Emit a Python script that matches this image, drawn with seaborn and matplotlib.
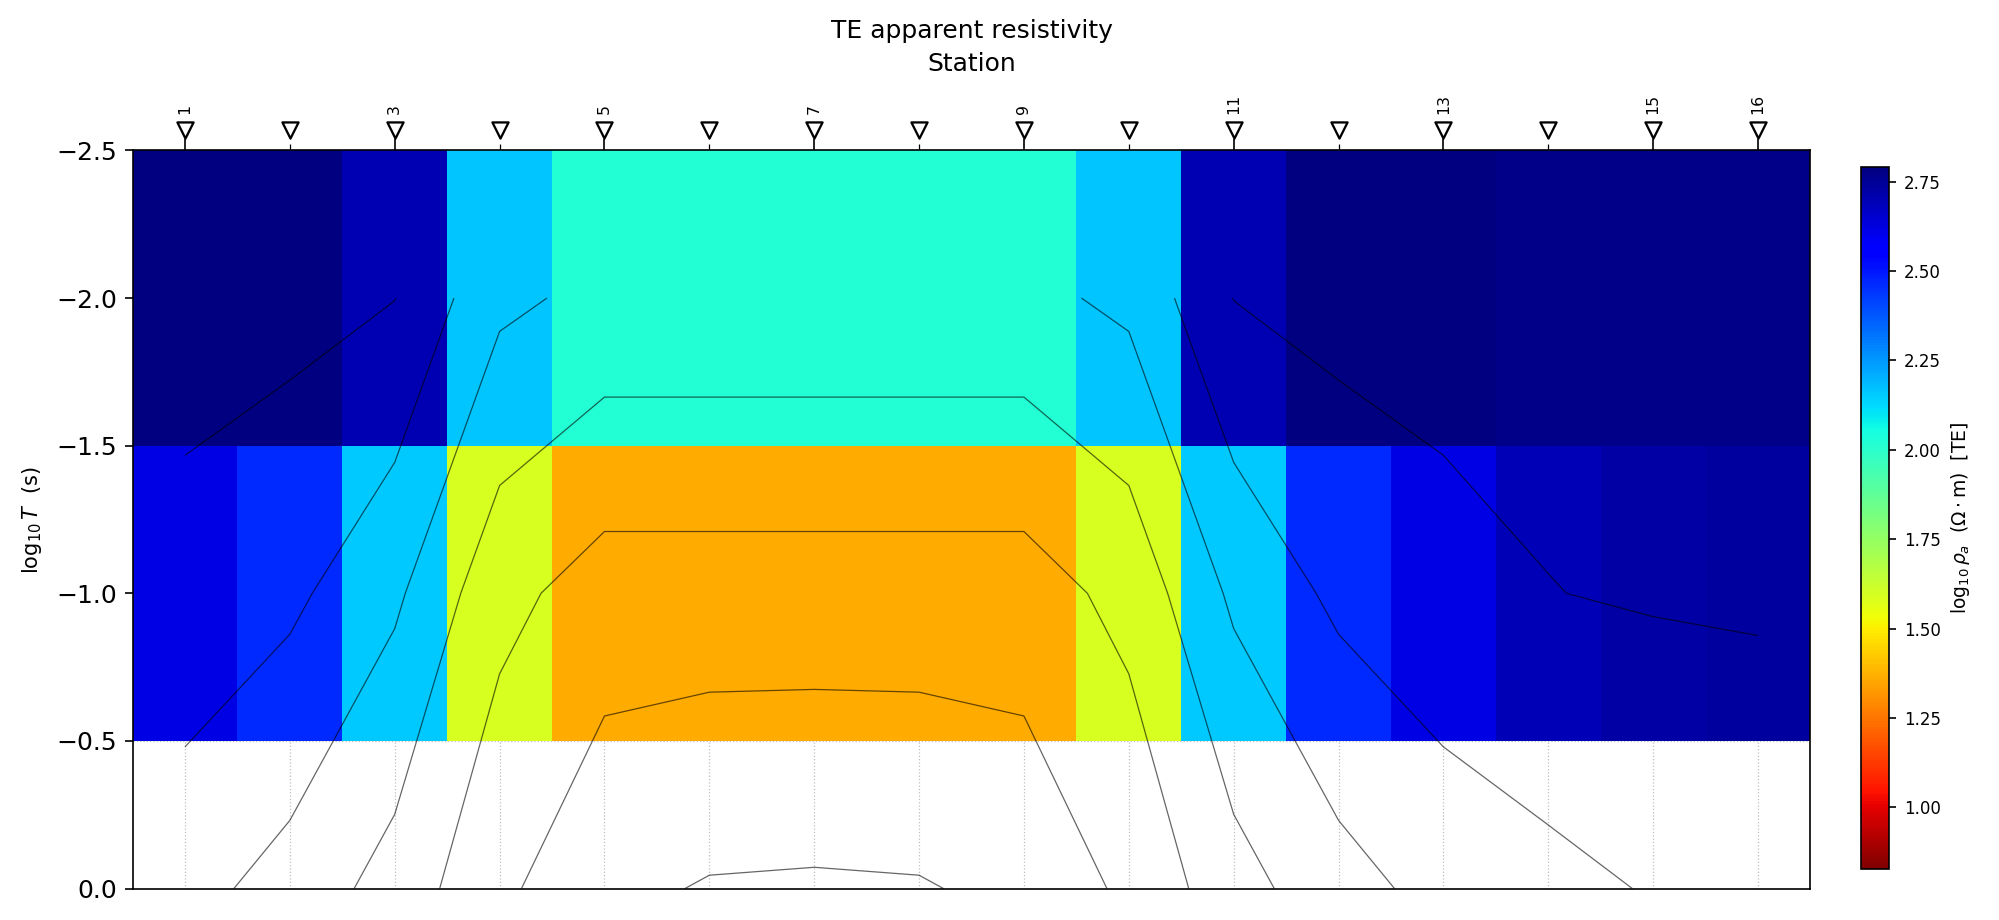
import numpy as np
import matplotlib
matplotlib.use("Agg")
import matplotlib.pyplot as plt
import matplotlib.transforms as mtransforms
from matplotlib.ticker import MultipleLocator
import seaborn as sns

# stations along the profile and the periods (log10 T, s) that were sampled
stations = [1, 2, 3, 4, 5, 6, 7, 8, 9, 10, 11, 12, 13, 14, 15, 16]
labelled_stations = [1, 3, 5, 7, 9, 11, 13, 15, 16]
log_periods = [-2.0, -1.0, 0.0]

# log10 apparent resistivity (ohm m), TE mode, one list per period
logrho_t001 = [2.79, 2.79, 2.705, 2.165, 2.021, 2.021, 2.021, 2.021,
               2.021, 2.165, 2.705, 2.79, 2.79, 2.77, 2.77, 2.77]
logrho_t01 = [2.621, 2.466, 2.157, 1.59, 1.362, 1.362, 1.362, 1.362,
              1.362, 1.59, 2.157, 2.466, 2.621, 2.695, 2.724, 2.73]
logrho_t1 = [2.196, 1.99, 1.68, 1.26, 0.972, 0.878, 0.864, 0.878,
             0.972, 1.26, 1.68, 1.99, 2.196, 2.319, 2.42, 2.52]

contour_levels = [0.9, 1.2, 1.5, 1.8, 2.1, 2.4, 2.7]
cbar_ticks = [1.0, 1.25, 1.5, 1.75, 2.0, 2.25, 2.5, 2.75]
rho_min, rho_max = 0.826, 2.791

sns.set_style("ticks", rc={"axes.edgecolor": "black", "xtick.color": "black",
                           "ytick.color": "black", "text.color": "black",
                           "axes.labelcolor": "black"})
plt.rcParams["font.family"] = ["DejaVu Sans"]

fig = plt.figure(figsize=(1999 / 150, 920 / 150), dpi=150)
ax = fig.add_axes([0.0663, 0.0341, 0.8394, 0.8024])
cax = fig.add_axes([0.931, 0.0549, 0.0142, 0.7636])

st = np.array(stations, dtype=float)
lp = np.array(log_periods)
x_edges = np.r_[st[0] - 0.5, (st[:-1] + st[1:]) / 2, st[-1] + 0.5]
y_edges = np.r_[lp[0] - 0.5, (lp[:-1] + lp[1:]) / 2, lp[-1] + 0.5]
field = np.array([logrho_t001, logrho_t01, logrho_t1])

# only the two shortest periods carry coloured cells
mesh = ax.pcolormesh(x_edges, y_edges[:3], field[:2], cmap="jet_r",
                     vmin=rho_min, vmax=rho_max, shading="flat")
ax.contour(st, lp, field, levels=contour_levels, colors="k",
           linewidths=0.6, alpha=0.6)

# station markers above the section
trans = mtransforms.blended_transform_factory(ax.transData, ax.transAxes)
sns.scatterplot(x=stations, y=[1.027] * len(stations), marker="v", s=60,
                color="white", edgecolor="black", linewidth=1.1,
                transform=trans, clip_on=False, zorder=5, legend=False, ax=ax)

ax.set_xlim(x_edges[0], x_edges[-1])
ax.set_ylim(0, -2.5)

ax.xaxis.tick_top()
ax.xaxis.set_label_position("top")
ax.set_xticks(labelled_stations)
ax.set_xticklabels([str(s) for s in labelled_stations], rotation=90, fontsize=7.5)
ax.set_xticks([s for s in stations if s not in labelled_stations], minor=True)
ax.tick_params(axis="x", which="major", length=5.5, pad=12, top=True, bottom=False)
ax.tick_params(axis="x", which="minor", length=3, top=True, bottom=False)
ax.set_xlabel("Station", fontsize=12, labelpad=11)
ax.set_title("TE apparent resistivity", fontsize=12, pad=6.5)

ax.yaxis.set_major_locator(MultipleLocator(0.5))
ax.tick_params(axis="y", labelsize=12, length=4)
ax.set_ylabel(r"$\log_{10}T$  (s)", fontsize=10, labelpad=6)

ax.set_axisbelow(True)
ax.grid(True, which="both", axis="x", ls=":", color="0.75", lw=0.6)
ax.grid(True, which="major", axis="y", ls=":", color="0.75", lw=0.6)
for sp in ax.spines.values():
    sp.set_visible(True)
    sp.set_color("black")

cb = fig.colorbar(mesh, cax=cax, ticks=cbar_ticks)
cb.ax.tick_params(labelsize=8)
cb.set_label(r"$\log_{10}\rho_a$  ($\Omega\cdot$m)  [TE]", fontsize=9)

fig.savefig("out.png", dpi=150)
